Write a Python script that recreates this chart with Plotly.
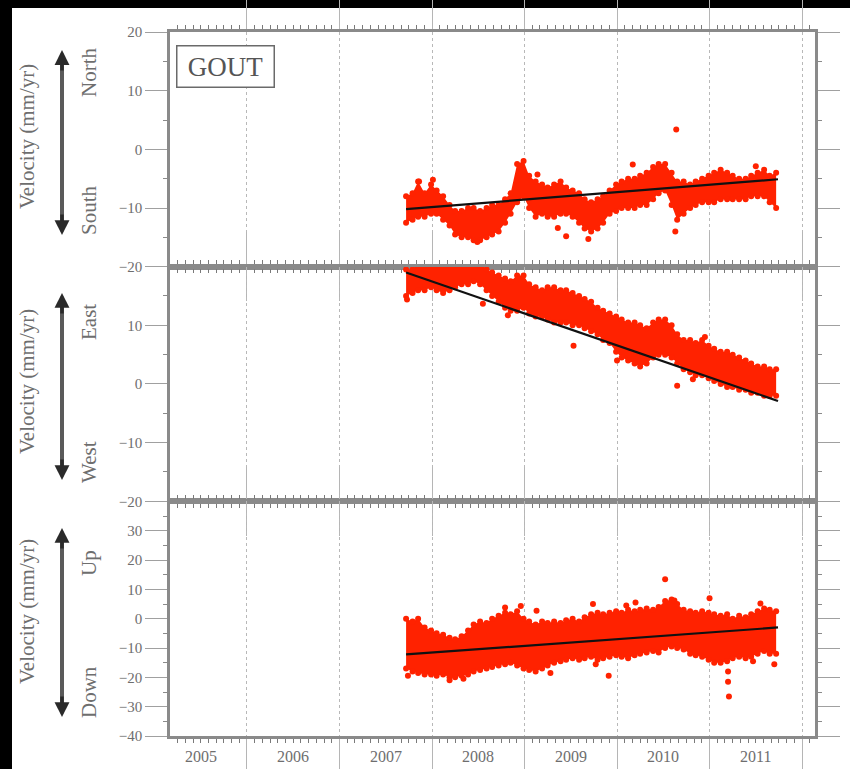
import plotly.graph_objects as go
from plotly.subplots import make_subplots

# ---------------- data ----------------
T = [2007.72, 2007.79, 2007.85, 2007.92, 2007.99, 2008.05, 2008.12, 2008.19, 2008.25, 2008.32,
     2008.39, 2008.45, 2008.52, 2008.59, 2008.65, 2008.72, 2008.79, 2008.85, 2008.92, 2008.99,
     2009.05, 2009.12, 2009.19, 2009.25, 2009.32, 2009.39, 2009.45, 2009.52, 2009.59, 2009.65,
     2009.72, 2009.79, 2009.85, 2009.92, 2009.99, 2010.05, 2010.12, 2010.19, 2010.25, 2010.32,
     2010.39, 2010.45, 2010.52, 2010.59, 2010.65, 2010.72, 2010.79, 2010.85, 2010.92, 2010.99,
     2011.05, 2011.12, 2011.19, 2011.25, 2011.32, 2011.39, 2011.45, 2011.52, 2011.59, 2011.65,
     2011.72]

# North component: upper / lower edge of the daily-velocity cloud
north_hi = [-8, -7.5, -5.5, -7.5, -6, -7, -8, -9.5, -10.5, -10.5,
            -10, -10, -10.5, -10, -9.5, -9.5, -8.5, -7.5, -2.5, -2,
            -4.5, -5.5, -6, -6.5, -6, -5.5, -6.5, -7, -7.5, -8.5,
            -9, -8.5, -8, -7, -6, -5.5, -5, -5, -4.5, -4,
            -3, -2.5, -2.5, -4, -5.5, -5.5, -6, -5.5, -5, -4.5,
            -4, -3.5, -4, -4.5, -5, -5, -4.5, -4, -3.5, -4.5,
            -4]
north_lo = [-12.5, -12, -11.5, -11.5, -11, -11, -12, -13, -14.5, -15,
            -15, -15.5, -15.5, -15, -14.5, -14, -12.5, -11, -9, -8,
            -10, -11.5, -11, -11.5, -11.5, -11, -11, -11.5, -12.5, -13.5,
            -14, -13.5, -12.5, -11, -10.5, -10, -10, -10, -9.5, -9.5,
            -8.5, -7.5, -7, -9.5, -12, -11, -10, -9.5, -9, -9,
            -9, -8.5, -8.5, -8.5, -8.5, -8.5, -8, -8, -8, -9,
            -10]
north_out_t = [2010.64, 2009.69, 2009.36, 2010.63, 2010.17, 2009.14, 2008.01, 2009.45, 2008.49, 2007.86, 2011.50]
north_out_v = [3.4, -15.3, -13.4, -14.0, -2.6, -4.3, -5.2, -14.8, -15.8, -5.5, -2.9]

# East component
east_hi = [19.5, 19.5, 20.5, 20.5, 20.5, 20.5, 20.5, 20.5, 20.5, 20.5,
           20.5, 20.5, 20.5, 19.5, 19, 18.5, 18, 17.5, 18.5, 18.5,
           17, 16.5, 16, 16.5, 16.5, 16, 16, 15.5, 15, 14.5,
           14, 13, 12.5, 12, 11.5, 11, 10.5, 10.5, 10, 9.5,
           10.5, 11, 11, 10, 8.5, 7.5, 7.5, 7, 7.5, 6.5,
           6, 5.5, 5.5, 5, 4.5, 4, 3.5, 3, 3, 2.5,
           2.5]
east_lo = [15, 15.5, 16, 16, 16.5, 16, 15.5, 16, 16.5, 17,
           17, 17.5, 17, 16, 15, 14, 13, 12.5, 12.5, 13,
           12, 11.5, 11.5, 11, 10.5, 10.5, 10.5, 10, 10, 9.5,
           9, 8.5, 7.5, 7, 5.5, 4.5, 4, 3.5, 3, 3.5,
           4.5, 5, 5, 4.5, 3.5, 2.5, 2, 1.5, 1.5, 1,
           0.5, 0, -0.5, -0.5, -1, -1, -1.5, -1.5, -2, -2,
           -2]
east_out_t = [2007.73, 2009.53, 2010.00, 2010.65, 2010.82, 2010.95, 2008.55, 2008.82]
east_out_v = [14.4, 6.5, 4.0, -0.3, 0.8, 8.0, 13.7, 11.7]

# Up component
up_hi = [0, -1, 0, -3, -4, -5, -5.5, -6.5, -7, -6,
         -4, -2, -1, -1.5, 0, 1, 2, 1.5, 2.5, 0,
         -1, -2, -1, -1.5, -1, -1.5, -0.5, 0, -1, 0.5,
         1.5, 2, 1.5, 2, 2.5, 2, 3, 2.5, 3, 3.5,
         3, 4, 6, 6.5, 5, 3, 2.5, 2, 2.5, 2,
         1.5, 1, 1.5, 0, 1, 0.5, 1.5, 2.5, 3.5, 3,
         2.5]
up_lo = [-17, -18, -18.5, -19, -19, -19.5, -19, -20, -20, -19.5,
         -19, -18, -17.5, -17, -16.5, -16, -15.5, -15, -16, -17,
         -17.5, -18, -17, -16, -15, -14.5, -14, -13.5, -14, -13.5,
         -13, -14, -13.5, -13, -12.5, -13, -13.5, -12.5, -12, -11.5,
         -11, -11.5, -10, -9.5, -10, -10.5, -12, -12.5, -13, -14,
         -15, -15, -14.5, -13.5, -13, -13.5, -13, -12, -11, -12,
         -12]
up_out_t = [2007.74, 2008.19, 2008.34, 2008.79, 2008.96, 2009.13, 2009.28, 2009.74, 2009.77, 2009.91,
            2010.10, 2010.20, 2010.52, 2010.62, 2011.00, 2011.20, 2011.20, 2011.21, 2011.47, 2011.55, 2011.70]
up_out_v = [-19.5, -21, -20.5, 3.8, 4.3, 2.7, -18.5, 5.0, -15.5, -19.5,
            4.5, 5.5, 13.4, 6.2, 7.0, -18, -21.5, -26.5, -14.5, 5.2, -15.5]

trend_t = [2007.72, 2011.74]
north_trend = [-10.2, -5.1]
east_trend = [19.0, -2.9]
up_trend = [-12.2, -3.0]

years = [2005, 2006, 2007, 2008, 2009, 2010, 2011]
year_bounds = [2006, 2007, 2008, 2009, 2010, 2011, 2012]
station = "GOUT"

# ---------------- figure ----------------
W, H = 850, 769
L, R, TOP, BOT = 170, 815, 32, 736
XMIN, XMAX = 2005.168, 2012.14
RED = "#ff2200"
GRAY_TXT = "#6e6e6e"
SERIF = "Liberation Serif"


def fx(p):
    return (p - L) / (R - L)


def fy(p):
    return (BOT - p) / (BOT - TOP)


fig = make_subplots(rows=3, cols=1, shared_xaxes=True, vertical_spacing=0)

panels = [
    (1, north_hi, north_lo, north_out_t, north_out_v, north_trend),
    (2, east_hi, east_lo, east_out_t, east_out_v, east_trend),
    (3, up_hi, up_lo, up_out_t, up_out_v, up_trend),
]
for row, hi, lo, ot, ov, tr in panels:
    fig.add_trace(go.Scatter(x=T, y=hi, mode="markers+lines",
                             line=dict(width=0, color=RED),
                             marker=dict(size=6, color=RED, line=dict(width=0)),
                             showlegend=False, hoverinfo="skip"), row=row, col=1)
    fig.add_trace(go.Scatter(x=T, y=lo, mode="markers+lines", fill="tonexty",
                             fillcolor=RED, line=dict(width=0, color=RED),
                             marker=dict(size=6, color=RED, line=dict(width=0)),
                             showlegend=False, hoverinfo="skip"), row=row, col=1)
    fig.add_trace(go.Scatter(x=ot, y=ov, mode="markers",
                             marker=dict(size=6, color=RED, line=dict(width=0)),
                             showlegend=False, hoverinfo="skip"), row=row, col=1)
    fig.add_trace(go.Scatter(x=trend_t, y=tr, mode="lines",
                             line=dict(width=2.2, color="#111111"),
                             showlegend=False, hoverinfo="skip"), row=row, col=1)

for row in (1, 2, 3):
    fig.update_xaxes(row=row, col=1, range=[XMIN, XMAX], tickmode="array", automargin=False,
                     tickvals=year_bounds, showticklabels=False,
                     ticks="outside", ticklen=32, tickwidth=1, tickcolor="#b5b5b5",
                     showgrid=True, gridcolor="#b8b8b8", griddash="dot", gridwidth=1,
                     showline=True, linecolor="#8a8a8a", linewidth=2.5, mirror="allticks",
                     zeroline=False,
                     minor=dict(tick0=2005, dtick=1 / 12, ticks="outside", ticklen=4,
                                tickwidth=1, tickcolor="#7a7a7a", showgrid=False))

ytick_common = dict(ticks="outside", ticklen=22, tickwidth=1, tickcolor="#a0a0a0",
                    showgrid=False, zeroline=False, showline=True, linecolor="#8a8a8a",
                    linewidth=2.5, mirror="allticks", automargin=False,
                    tickfont=dict(family=SERIF, size=15, color=GRAY_TXT),
                    minor=dict(dtick=5, ticks="outside", ticklen=4, tickwidth=1,
                               tickcolor="#8a8a8a", showgrid=False))

fig.update_yaxes(row=1, col=1, range=[-20, 20], tickmode="array",
                 tickvals=[-20, -10, 0, 10, 20],
                 ticktext=["\u221220", "\u221210", "0", "10", "20"], **ytick_common)
fig.update_yaxes(row=2, col=1, range=[-20, 20], tickmode="array",
                 tickvals=[-20, -10, 0, 10, 20],
                 ticktext=["\u221220", "\u221210", "0", "10", ""], **ytick_common)
fig.update_yaxes(row=3, col=1, range=[-40, 40], tickmode="array",
                 tickvals=[-40, -30, -20, -10, 0, 10, 20, 30, 40],
                 ticktext=["\u221240", "\u221230", "\u221220", "\u221210", "0", "10", "20", "30", ""],
                 **ytick_common)

CM = dict(xanchor="center", yanchor="middle")
annotations = []
# year labels centred in each year
for yr in years:
    annotations.append(dict(x=yr + 0.5, y=fy(756), xref="x3", yref="paper", text=str(yr),
                            showarrow=False, font=dict(family=SERIF, size=16, color=GRAY_TXT), **CM))

# station box
annotations.append(dict(x=fx(225), y=fy(66), xref="paper", yref="paper", text=station,
                        showarrow=False, font=dict(family=SERIF, size=27, color="#555555"),
                        bgcolor="white", bordercolor="#6a6a6a", borderwidth=1.5,
                        borderpad=2, width=92, height=36, **CM))

shapes = [
    dict(type="rect", xref="paper", yref="paper", x0=fx(0), x1=fx(12), y0=fy(H), y1=fy(0),
         fillcolor="black", line=dict(width=0), layer="below"),
    dict(type="rect", xref="paper", yref="paper", x0=fx(0), x1=fx(W), y0=fy(8), y1=fy(0),
         fillcolor="black", line=dict(width=0), layer="below"),
]

side = [  # (arrow top, arrow bottom, label centre, up word, up centre, down word, down centre)
    (50, 235, 137, "North", 72, "South", 210),
    (293, 480, 382, "East", 322, "West", 462),
    (528, 717, 612, "Up", 563, "Down", 692),
]
AX = 62
for a_top, a_bot, vc, w1, c1, w2, c2 in side:
    shapes.append(dict(type="line", xref="paper", yref="paper", x0=fx(AX), x1=fx(AX),
                       y0=fy(a_top + 10), y1=fy(a_bot - 10),
                       line=dict(color="#5a5a5a", width=4)))
    for tip, off in ((a_top, 22), (a_bot, -22)):
        annotations.append(dict(x=fx(AX), y=fy(tip), xref="paper", yref="paper", text="",
                                showarrow=True, ax=0, ay=off, arrowhead=2, arrowsize=0.85,
                                arrowwidth=3.5, arrowcolor="#2a2a2a", standoff=0))
    annotations.append(dict(x=fx(27), y=fy(vc), xref="paper", yref="paper",
                            text="Velocity (mm/yr)", textangle=-90, showarrow=False,
                            font=dict(family=SERIF, size=21, color=GRAY_TXT), **CM))
    annotations.append(dict(x=fx(89), y=fy(c1), xref="paper", yref="paper", text=w1,
                            textangle=-90, showarrow=False,
                            font=dict(family=SERIF, size=21, color=GRAY_TXT), **CM))
    annotations.append(dict(x=fx(89), y=fy(c2), xref="paper", yref="paper", text=w2,
                            textangle=-90, showarrow=False,
                            font=dict(family=SERIF, size=21, color=GRAY_TXT), **CM))

fig.update_layout(width=W, height=H, autosize=False,
                  margin=dict(l=L, r=W - R, t=TOP, b=H - BOT, pad=0, autoexpand=False),
                  paper_bgcolor="white", plot_bgcolor="white",
                  font=dict(family=SERIF, color=GRAY_TXT),
                  annotations=annotations, shapes=shapes, showlegend=False)

fig.write_html("out.html")
